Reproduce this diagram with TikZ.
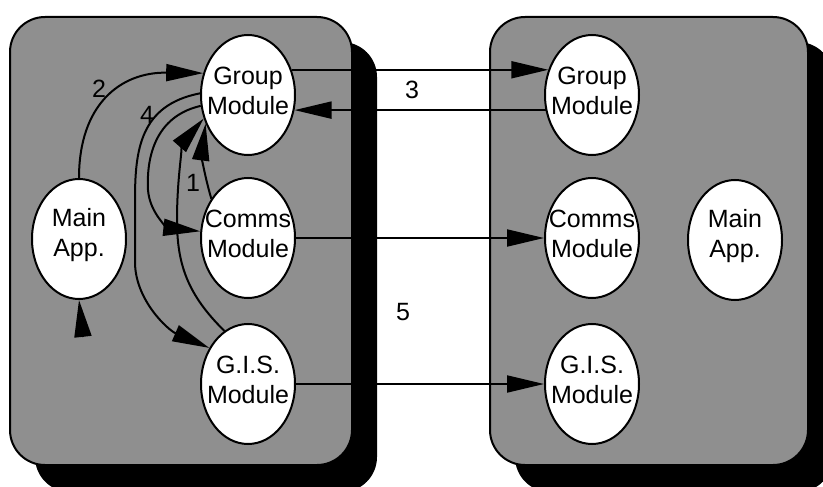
\documentclass[tikz,border=0pt]{standalone}
\usepackage{fontspec}
\setmainfont{Liberation Sans}
\usetikzlibrary{arrows.meta,shapes.geometric}
\definecolor{panelgray}{RGB}{143,143,143}
\begin{document}
\begin{tikzpicture}[x=1pt,y=-1pt,
  panel/.style={draw=black,line width=2pt,fill=panelgray,rounded corners=35pt},
  shadowbox/.style={fill=black,rounded corners=35pt},
  mod/.style={ellipse,draw=black,line width=2pt,fill=white,minimum width=94pt,minimum height=120pt,inner sep=0pt},
  txt/.style={align=center,inner sep=0pt,yshift=4pt,font=\fontsize{25}{30}\selectfont},
  num/.style={inner sep=0pt,font=\fontsize{25}{30}\selectfont},
  arr/.style={line width=2pt,-{Triangle[length=37pt,width=17pt]}}
]
\useasboundingbox (0,0) rectangle (823,487);
\clip (0,0) rectangle (823,487);
% panels
\fill[shadowbox] (35,42) rectangle (377,492);
\draw[panel] (10,17) rectangle (352,465);
\fill[shadowbox] (515,42) rectangle (833,492);
\draw[panel] (490,17) rectangle (808,465);
% left modules
\node[mod] (gl) at (248,95) {};
\node[txt] (glt) at (gl) {Group\\Module};
\node[mod] (cl) at (248,238) {};
\node[txt] (clt) at (cl) {Comms\\Module};
\node[mod] (il) at (248,384) {};
\node[txt] (ilt) at (il) {G.I.S.\\Module};
\node[mod] (ml) at (79,239) {};
\node[txt] (mlt) at (ml) {Main\\App.};
% right modules
\node[mod] (gr) at (592,95) {};
\node[txt] (grt) at (gr) {Group\\Module};
\node[mod] (cr) at (592,238) {};
\node[txt] (crt) at (cr) {Comms\\Module};
\node[mod] (ir) at (592,384) {};
\node[txt] (irt) at (ir) {G.I.S.\\Module};
\node[mod] (mr) at (735,240) {};
\node[txt] (mrt) at (mr) {Main\\App.};
% inter-panel connectors
\draw[arr] (gl.30) -- (gr.150);
\draw[arr] (gr.198) -- (gl.-18);
\draw[arr] (cl.east) -- (cr.west);
\draw[arr] (il.east) -- (ir.west);
% internal connectors
\draw[arr] (ml.north) .. controls (79,105) and (120,72) .. (gl.154);
\draw[arr] (gl.178) .. controls (140,105) and (135,150) .. (135,200) -- (135,262) .. controls (135,300) and (168,330) .. (il.137);
\draw[arr] (gl.193) .. controls (160,115) and (146,150) .. (148,190) .. controls (150,215) and (170,228) .. (cl.172);
\draw[arr] (il.114) .. controls (188,295) and (177,265) .. (177,220) .. controls (177,170) and (185,140) .. (gl.208);
\draw[arr] (cl.133) to[bend left=12] (gl.214);
\coordinate (mstub) at (83,337);
\draw[arr] (mstub) -- (ml.south);
% labels
\node[num] (n1) at (193,183) {1};
\node[num] (n2) at (99,89) {2};
\node[num] (n3) at (412,90) {3};
\node[num] (n4) at (147,115) {4};
\node[num] (n5) at (403,312) {5};
\end{tikzpicture}
\end{document}
